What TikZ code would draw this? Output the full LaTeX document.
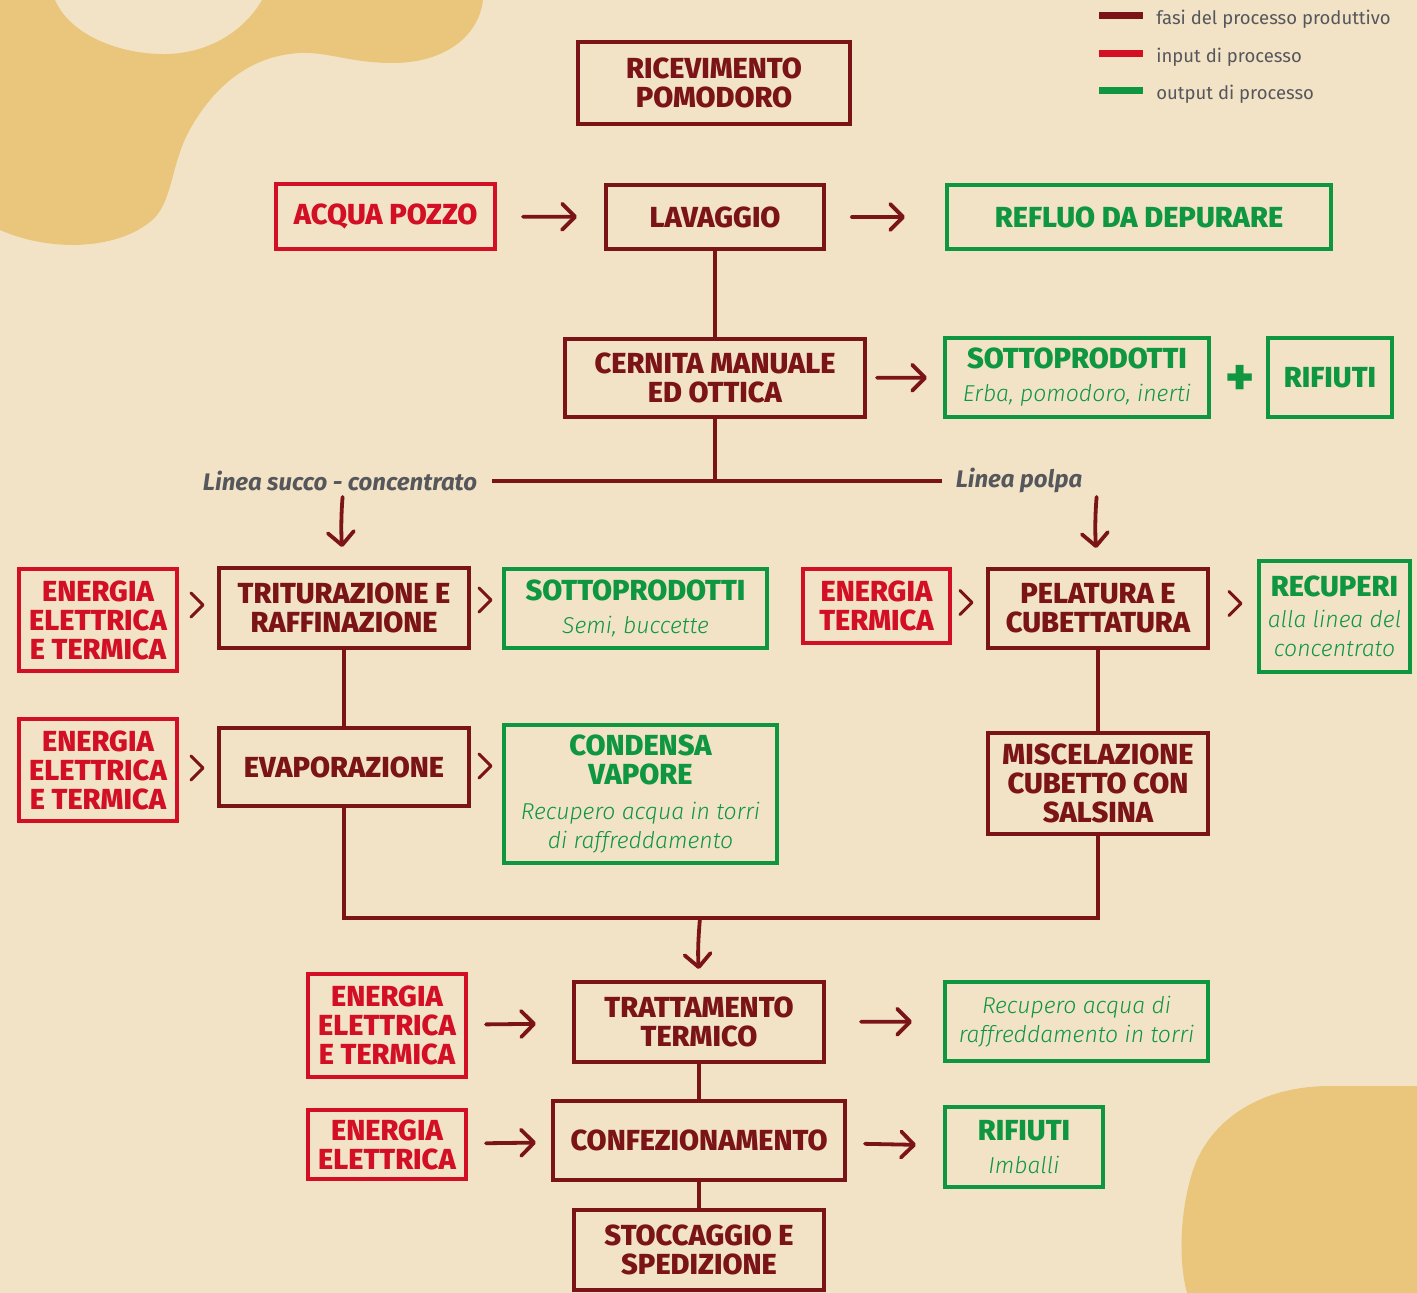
\documentclass[tikz,border=0pt]{standalone}
\usepackage{fontspec}
\setmainfont{Fira Sans}
\newfontfamily\lightfont{Fira Sans Light}[ItalicFont={Fira Sans Light Italic}]
\newfontfamily\heavyfont{Fira Sans ExtraBold}
\usetikzlibrary{arrows.meta,calc}
\definecolor{bg}{HTML}{F3E3C6}
\definecolor{blob}{HTML}{E9C67C}
\definecolor{maroon}{HTML}{7B1417}
\definecolor{inred}{HTML}{D20F24}
\definecolor{outgreen}{HTML}{0E9640}
\definecolor{greytxt}{HTML}{56575C}
\newcommand\ttl{\heavyfont\fontsize{14.5}{14.5}\selectfont}
\newcommand\sbt{\lightfont\mdseries\itshape\fontsize{11.5}{14.5}\selectfont}
\tikzset{
  box/.style={draw, line width=2pt, inner sep=0pt, outer sep=0pt, align=center, font=\ttl},
  mbox/.style={box, draw=maroon, text=maroon},
  rbox/.style={box, draw=inred, text=inred},
  gbox/.style={box, draw=outgreen, text=outgreen},
  conn/.style={draw=maroon, line width=1.9pt},
  harrow/.style={draw=maroon, line width=1.9pt, line cap=round,
    -{Straight Barb[length=6.5pt,width=13pt,round]}},
  chev/.style={draw=maroon, line width=1.5pt, line cap=round, line join=round},
  lab/.style={inner sep=0pt, text=greytxt, font=\fontsize{12}{14}\selectfont\bfseries\itshape},
  legtxt/.style={inner sep=0pt, anchor=west, text=greytxt, font=\fontsize{9.25}{11}\selectfont},
}
\begin{document}
\begin{tikzpicture}[x=0.5pt,y=-0.5pt]
\fill[bg] (0,0) rectangle (1417,1293);
\useasboundingbox (0,0) rectangle (1417,1293);
% blobs
\fill[blob] (0,0) -- (55,0) .. controls (70,35) and (120,55) .. (167,54)
  .. controls (210,53) and (245,30) .. (262,0) -- (483,0)
  .. controls (478,40) and (440,63) .. (393,63)
  .. controls (350,63) and (330,52) .. (300,53)
  .. controls (240,56) and (205,100) .. (187,135)
  .. controls (170,170) and (172,205) .. (150,222)
  .. controls (115,250) and (50,252) .. (0,230) -- cycle;
\fill[blob] (1417,1086) -- (1330,1086) .. controls (1260,1086) and (1210,1120) .. (1193,1170)
  .. controls (1180,1210) and (1178,1260) .. (1187,1293) -- (1417,1293) -- cycle;

% legend
\draw[line width=3.5pt, maroon] (1099,16) -- (1143,16);
\draw[line width=3.5pt, inred] (1099,54) -- (1143,54);
\draw[line width=3.5pt, outgreen] (1099,91) -- (1143,91);
\node[legtxt] (lg1) at (1156,19) {fasi del processo produttivo};
\node[legtxt] (lg2) at (1156,57) {input di processo};
\node[legtxt] (lg3) at (1156,94) {output di processo};

% maroon process boxes
\node[mbox, minimum width=136pt, minimum height=41pt] (ric) at (714,83) {RICEVIMENTO\\POMODORO};
\node[mbox, minimum width=109pt, minimum height=32pt] (lav) at (715,217) {LAVAGGIO};
\node[mbox, minimum width=150pt, minimum height=39pt] (cern) at (715,378) {CERNITA MANUALE\\ED OTTICA};
\node[mbox, minimum width=125pt, minimum height=40pt] (trit) at (344,608) {TRITURAZIONE E\\RAFFINAZIONE};
\node[mbox, minimum width=125pt, minimum height=39pt] (evap) at (344,767) {EVAPORAZIONE};
\node[mbox, minimum width=110pt, minimum height=39.5pt] (pel) at (1098,608.5) {PELATURA E\\CUBETTATURA};
\node[mbox, minimum width=110pt, minimum height=50.5pt] (misc) at (1098,783.5) {MISCELAZIONE\\CUBETTO CON\\SALSINA};
\node[mbox, minimum width=125pt, minimum height=40pt] (tratt) at (699,1022) {TRATTAMENTO\\TERMICO};
\node[mbox, minimum width=146pt, minimum height=39.5pt] (conf) at (699,1140.5) {CONFEZIONAMENTO};
\node[mbox, minimum width=125pt, minimum height=40pt] (stocc) at (699,1250) {STOCCAGGIO E\\SPEDIZIONE};

% red input boxes
\node[rbox, minimum width=109.5pt, minimum height=32.5pt] (acqua) at (385.5,216.5) {ACQUA POZZO};
\node[rbox, minimum width=79pt, minimum height=51pt] (en1) at (98,620) {ENERGIA\\ELETTRICA\\E TERMICA};
\node[rbox, minimum width=79pt, minimum height=51pt] (en2) at (98,770) {ENERGIA\\ELETTRICA\\E TERMICA};
\node[rbox, minimum width=73.5pt, minimum height=37pt] (enT) at (876.5,606) {ENERGIA\\TERMICA};
\node[rbox, minimum width=79pt, minimum height=51.5pt] (en3) at (387,1025.5) {ENERGIA\\ELETTRICA\\E TERMICA};
\node[rbox, minimum width=79pt, minimum height=34.5pt] (en4) at (387,1144.5) {ENERGIA\\ELETTRICA};

% green output boxes
\node[gbox, minimum width=192pt, minimum height=32pt] (refl) at (1139,217) {REFLUO DA DEPURARE};
\node[gbox, minimum width=132pt, minimum height=39.5pt] (sott1) at (1077,377.5) {SOTTOPRODOTTI\\[2pt]{\sbt Erba, pomodoro, inerti}};
\node[gbox, minimum width=62pt, minimum height=39.5pt] (rif1) at (1330,377.5) {RIFIUTI};
\node[font=\heavyfont\fontsize{27}{27}\selectfont, text=outgreen, inner sep=0pt] (plus) at (1240,380) {+};
\node[gbox, minimum width=131.5pt, minimum height=39.5pt] (sott2) at (635.5,608.5) {SOTTOPRODOTTI\\[2pt]{\sbt Semi, buccette}};
\node[gbox, minimum width=136.5pt, minimum height=69pt] (cond) at (640.5,794) {CONDENSA\\VAPORE\\[3pt]{\sbt Recupero acqua in torri}\\{\sbt di raffreddamento}};
\node[gbox, minimum width=75.5pt, minimum height=55.5pt] (rec) at (1334.5,616.5) {RECUPERI\\[1pt]{\sbt alla linea del}\\{\sbt concentrato}};
\node[gbox, minimum width=131.5pt, minimum height=39.5pt] (recw) at (1076.5,1021.5) {{\sbt Recupero acqua di}\\{\sbt raffreddamento in torri}};
\node[gbox, minimum width=79pt, minimum height=40pt] (rif2) at (1024,1147) {RIFIUTI\\[2pt]{\sbt Imballi}};

% line labels
\node[lab] (lsc) at (340,481) {Linea succo - concentrato};
\node[lab] (lp) at (1019,480) {Linea polpa};

% vertical connectors
\draw[conn] (ric.south) -- (ric.south -| lav.north);
\draw[conn] (lav.south) -- (cern.north);
\draw[conn] (cern.south) -- (cern.south |- lsc.east);
\draw[conn] ([xshift=7.5pt]lsc.east) -- ([xshift=-6.5pt]lp.west |- lsc.east);
\draw[conn] (trit.south) -- (evap.north);
\draw[conn] (pel.south) -- (misc.north);
\coordinate (mj) at (700,918);
\draw[conn] (evap.south) |- (mj) -| (misc.south);
\draw[conn] (tratt.south) -- (conf.north);
\draw[conn] (conf.south) -- (stocc.north);

% down arrows
\draw[harrow, shorten <=8pt, shorten >=10.5pt] (trit.north |- lsc.east) to[bend right=5] (trit.north);
\draw[harrow, shorten <=8pt, shorten >=10.5pt] (pel.north |- lsc.east) to[bend right=5] (pel.north);
\draw[harrow, shorten >=6.5pt] (mj) to[bend right=5] (mj |- tratt.north);

% horizontal arrows
\draw[harrow, shorten <=14pt, shorten >=14.5pt] (acqua) -- (lav);
\draw[harrow, shorten <=14pt, shorten >=21pt] (lav) -- (refl);
\draw[harrow, shorten <=6pt, shorten >=9pt] (cern) -- (sott1);
\draw[harrow, shorten <=10pt, shorten >=19pt] (en3) -- (tratt);
\draw[harrow, shorten <=18.5pt, shorten >=16.5pt] (tratt) -- (recw);
\draw[harrow, shorten <=10pt, shorten >=8.5pt] (en4) -- (conf);
\draw[harrow, shorten <=10pt, shorten >=14.5pt] (conf) -- (rif2);

% chevrons
\draw[chev] ($(trit.west)+(-28,-15)$) -- ++(12,12) -- ++(-12,12);
\draw[chev] ($(trit.east)+(10,-20)$) -- ++(12,12) -- ++(-12,12);
\draw[chev] ($(evap.west)+(-28,-11)$) -- ++(12,12) -- ++(-12,12);
\draw[chev] ($(evap.east)+(10,-13)$) -- ++(12,12) -- ++(-12,12);
\draw[chev] ($(pel.west)+(-28,-18)$) -- ++(12,12) -- ++(-12,12);
\draw[chev] ($(pel.east)+(21,-17)$) -- ++(12,12) -- ++(-12,12);
\end{tikzpicture}
\end{document}
